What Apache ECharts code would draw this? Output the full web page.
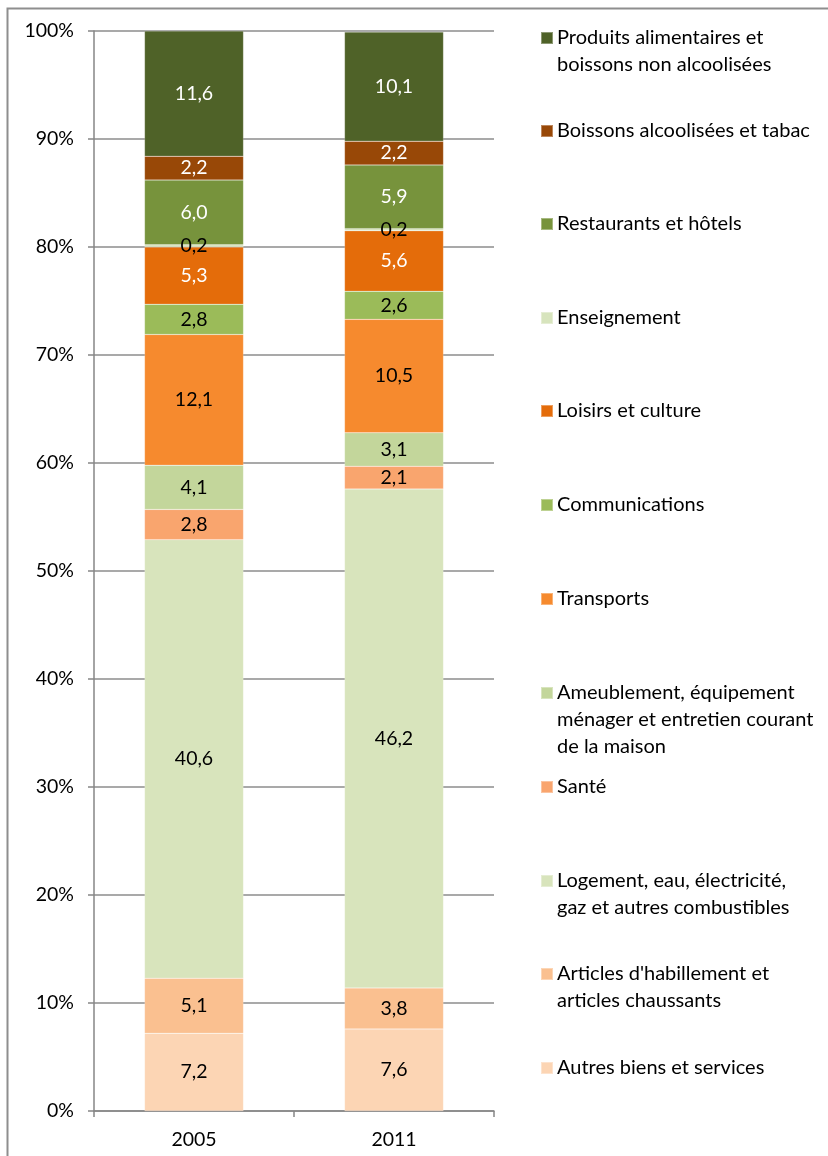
<!DOCTYPE html>
<html>
<head>
<meta charset="utf-8">
<title>Structure de la consommation</title>
<script src="https://cdn.jsdelivr.net/npm/echarts@6/dist/echarts.min.js"></script>
<style>
  html,body{margin:0;padding:0;background:#fff;overflow:hidden}
  #main{width:828px;height:1156px}
</style>
</head>
<body>
<div id="main"></div>
<script>
// années
const years = ['2005', '2011']

// postes, du bas de la pile vers le haut
const seriesNames = [
  'Autres biens et services',
  "Articles d'habillement et\narticles chaussants",
  'Logement, eau, électricité,\ngaz et autres combustibles',
  'Santé',
  'Ameublement, équipement\nménager et entretien courant\nde la maison',
  'Transports',
  'Communications',
  'Loisirs et culture',
  'Enseignement',
  'Restaurants et hôtels',
  'Boissons alcoolisées et tabac',
  'Produits alimentaires et\nboissons non alcoolisées'
]

// parts en % (2005, 2011)
const autres = [7.2, 7.6]
const habillement = [5.1, 3.8]
const logement = [40.6, 46.2]
const sante = [2.8, 2.1]
const ameublement = [4.1, 3.1]
const transports = [12.1, 10.5]
const communications = [2.8, 2.6]
const loisirs = [5.3, 5.6]
const enseignement = [0.2, 0.2]
const restaurants = [6.0, 5.9]
const boissons = [2.2, 2.2]
const alimentaires = [11.6, 10.1]

const seriesValues = [autres, habillement, logement, sante, ameublement, transports,
  communications, loisirs, enseignement, restaurants, boissons, alimentaires]

const seriesColors = ['#FCD5B4', '#FAC090', '#D8E4BC', '#F9A56E', '#C3D69B', '#F68A2E',
  '#9BBB59', '#E46C0A', '#D7E4BD', '#77933C', '#984807', '#4F6228']
const labelColors = ['#000', '#000', '#000', '#000', '#000', '#000',
  '#000', '#fff', '#000', '#fff', '#fff', '#fff']

// y du centre de chaque pastille de légende (haut -> bas : Produits ... Autres)
const legendCenters = [38, 131, 224, 318, 411, 505, 599, 693, 787, 881, 974, 1068]

const font = 'Lato'
const lineH = 27

const chartInstance = echarts.init(document.getElementById('main'))

const series = seriesNames.map((name, i) => ({
  name: name,
  type: 'bar',
  stack: 'total',
  barWidth: 99,
  data: seriesValues[i],
  itemStyle: {
    color: seriesColors[i],
    borderColor: 'rgba(255,255,255,0.35)',
    borderWidth: 0.5
  },
  label: {
    show: true,
    position: 'inside',
    color: labelColors[i],
    fontFamily: font,
    fontSize: 19.5,
    formatter: (p) => p.value.toFixed(1).replace('.', ',')
  },
  emphasis: { disabled: true }
}))

// une légende par poste ; lignes vides ajoutées au-dessus pour aligner
// la pastille sur la première ligne du texte
const legends = seriesNames.slice().reverse().map((name, k) => {
  const n = name.split('\n').length
  return {
    orient: 'vertical',
    left: 540,
    top: legendCenters[k] - (2 * n - 1) * lineH / 2,
    padding: 0,
    itemWidth: 12,
    itemHeight: 12,
    itemGap: 0,
    selectedMode: false,
    icon: 'rect',
    data: [name],
    formatter: (nm) => '\u00a0\n'.repeat(n - 1) + nm,
    textStyle: {
      fontFamily: font,
      fontSize: 20,
      color: '#000',
      lineHeight: lineH,
      padding: [0, 0, 0, -1]
    }
  }
})

const option = {
  animation: false,
  textStyle: { fontFamily: font },
  graphic: [{
    type: 'rect',
    shape: { x: 7.5, y: 8.5, width: 900, height: 1200 },
    style: { fill: 'none', stroke: '#8e8e8e', lineWidth: 2 },
    silent: true
  }],
  legend: legends,
  grid: {
    left: 94,
    right: 334,
    top: 31,
    bottom: 45
  },
  xAxis: {
    type: 'category',
    data: years,
    axisLine: { lineStyle: { color: '#868686', width: 1.5 } },
    axisTick: { show: true, length: 6, lineStyle: { color: '#868686', width: 1.5 } },
    axisLabel: { color: '#000', fontFamily: font, fontSize: 19.5, margin: 19 }
  },
  yAxis: {
    type: 'value',
    min: 0,
    max: 100,
    interval: 10,
    axisLine: { show: true, lineStyle: { color: '#868686', width: 1.5 } },
    axisTick: { show: true, length: 6, lineStyle: { color: '#868686', width: 1.5 } },
    axisLabel: { color: '#000', fontFamily: font, fontSize: 19.5, margin: 20, formatter: '{value}%' },
    splitLine: { lineStyle: { color: '#8c8c8c', width: 1.5 } }
  },
  series: series
}

chartInstance.setOption(option)
</script>
</body>
</html>
